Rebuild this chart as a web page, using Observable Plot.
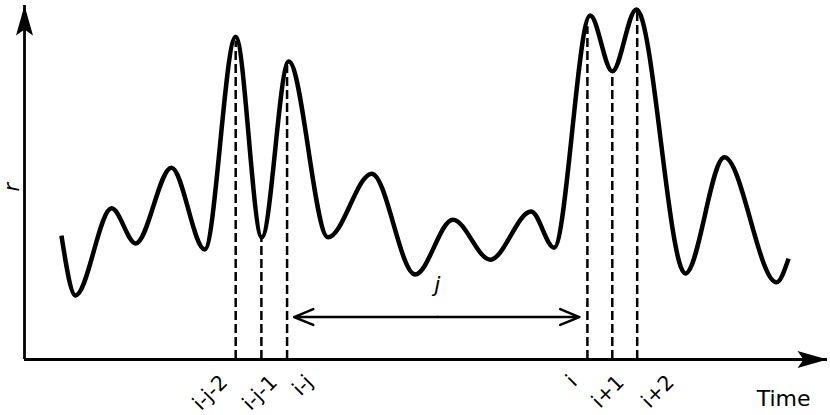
<!DOCTYPE html>
<html><head><meta charset="utf-8">
<script src="https://cdn.jsdelivr.net/npm/d3@7"></script>
<script src="https://cdn.jsdelivr.net/npm/@observablehq/plot@0.6"></script>
<style>body{margin:0;background:#fff;}</style>
</head><body><div id="chart"></div>
<script>
// ---- data ----
const curveTime = [4.6, 6.35, 10.85, 13.85, 18.3, 22.45, 26.3, 29.55, 32.9, 37.8, 43.25, 48.65, 53.35, 58.0, 63.1, 65.95, 70.45, 73.2, 76.2, 82.3, 87.15, 93.65, 95.15];
const curveR    = [3.50, 1.81, 4.27, 3.28, 5.42, 3.11, 9.12, 3.45, 8.42, 3.45, 5.25, 2.40, 3.95, 2.82, 4.18, 3.16, 9.72, 8.14, 9.89, 2.43, 5.71, 2.18, 2.85];
const tickLabels = ["i-j-2", "i-j-1", "i-j", "i", "i+1", "i+2"];
const tickTime   = [26.3, 29.5, 32.7, 70.1, 73.2, 76.3];
const tickTopR   = [9.0, 3.45, 8.3, 9.4, 8.14, 9.85];
const spanLabel = "j";
const spanFrom = "i-j", spanTo = "i";
const spanLevel = 1.2;
const xLabel = "Time", yLabel = "r";
const xDomain = [0, 100], yDomain = [0, 10];

// ---- tables built from the arrays ----
const curve = curveTime.map((t, k) => ({t, r: curveR[k]}));
const ticks = tickTime.map((t, k) => ({t, label: tickLabels[k], top: tickTopR[k]}));
const tFrom = tickTime[tickLabels.indexOf(spanFrom)];
const tTo = tickTime[tickLabels.indexOf(spanTo)];
const tMid = (tFrom + tTo) / 2;

// filled, swept-back arrowheads (tip at the origin)
const headLen = 30, headHalf = 8.5, notch = 6;
const arrowUp = {draw(c) { c.moveTo(0, 0); c.lineTo(headHalf, headLen); c.lineTo(0, headLen - notch); c.lineTo(-headHalf, headLen); c.closePath(); }};
const arrowRight = {draw(c) { c.moveTo(0, 0); c.lineTo(-headLen, headHalf); c.lineTo(-(headLen - notch), 0); c.lineTo(-headLen, -headHalf); c.closePath(); }};

// per-label layout nudges (pixels) so the rotated labels do not overlap
const labelDx = [-7, 17, 27, -9, 13, 38];

const labelMarks = ticks.map((d, k) => Plot.text([d], {
  x: "t", y: () => yDomain[0], text: "label",
  rotate: -45, textAnchor: "end", lineAnchor: "bottom",
  dx: labelDx[k], dy: 24, fontSize: 20.5, fill: "black"
}));

const chart = Plot.plot({
  width: 830, height: 415,
  marginLeft: 24, marginRight: 3, marginTop: 5, marginBottom: 56,
  x: {domain: xDomain, axis: null},
  y: {domain: yDomain, axis: null},
  style: {fontFamily: "DejaVu Sans", background: "white", color: "black"},
  marks: [
    Plot.ruleX(ticks, {x: "t", y1: () => yDomain[0], y2: "top", stroke: "black", strokeWidth: 2.5, strokeDasharray: "9,4"}),
    Plot.ruleY([yDomain[0]], {stroke: "black", strokeWidth: 2.8}),
    Plot.ruleX([xDomain[0]], {stroke: "black", strokeWidth: 2.8}),
    Plot.dot([0], {x: () => xDomain[0], y: () => yDomain[1], symbol: arrowUp, fill: "black", stroke: "none"}),
    Plot.dot([0], {x: () => xDomain[1], y: () => yDomain[0], symbol: arrowRight, fill: "black", stroke: "none"}),
    Plot.line(curve, {x: "t", y: "r", curve: "monotone-x", stroke: "black", strokeWidth: 4.5, strokeLinecap: "butt"}),
    Plot.arrow([0], {x1: () => tMid, x2: () => tFrom, y1: () => spanLevel, y2: () => spanLevel, stroke: "black", strokeWidth: 2.4, headLength: 13, headAngle: 45, insetEnd: 7}),
    Plot.arrow([0], {x1: () => tMid, x2: () => tTo, y1: () => spanLevel, y2: () => spanLevel, stroke: "black", strokeWidth: 2.4, headLength: 13, headAngle: 45, insetEnd: 8}),
    Plot.text([spanLabel], {x: () => tMid, y: () => spanLevel, text: d => d, fontStyle: "italic", fontSize: 22, lineAnchor: "bottom", dy: -25, fill: "black"}),
    Plot.text([xLabel], {frameAnchor: "bottom-right", text: d => d, textAnchor: "end", lineAnchor: "bottom", dx: -17, dy: 46, fontSize: 22, fill: "black"}),
    Plot.text([yLabel], {frameAnchor: "left", text: d => d, rotate: -90, fontStyle: "italic", lineAnchor: "bottom", dx: -6, dy: 9, fontSize: 21, fill: "black"}),
    ...labelMarks
  ]
});
document.getElementById("chart").appendChild(chart);
</script>
</body></html>
